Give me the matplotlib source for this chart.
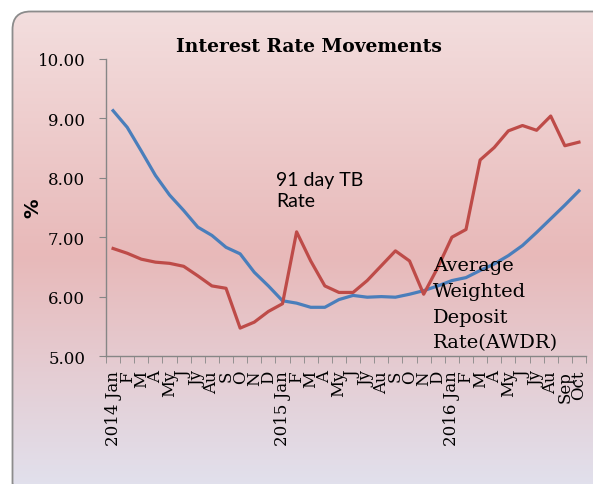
import matplotlib.pyplot as plt
import numpy as np
from matplotlib.colors import LinearSegmentedColormap
from matplotlib.patches import FancyBboxPatch

months = [
    "2014 Jan", "F", "M", "A", "My", "J", "Jy", "Au", "S", "O", "N", "D",
    "2015 Jan", "F", "M", "A", "My", "J", "Jy", "Au", "S", "O", "N", "D",
    "2016 Jan", "F", "M", "A", "My", "J", "Jy", "Au", "Sep", "Oct",
]
tb_rate = [
    6.81, 6.73, 6.63, 6.58, 6.56, 6.51, 6.35, 6.18, 6.14, 5.47, 5.57, 5.75,
    5.88, 7.09, 6.60, 6.18, 6.07, 6.07, 6.27, 6.52, 6.77, 6.60, 6.04, 6.49,
    7.00, 7.13, 8.30, 8.51, 8.79, 8.88, 8.80, 9.04, 8.54, 8.60,
]
awdr = [
    9.13, 8.85, 8.45, 8.04, 7.71, 7.45, 7.17, 7.03, 6.83, 6.72, 6.41, 6.18,
    5.93, 5.89, 5.82, 5.82, 5.95, 6.02, 5.99, 6.00, 5.99, 6.04, 6.10, 6.18,
    6.27, 6.32, 6.44, 6.55, 6.69, 6.86, 7.08, 7.31, 7.54, 7.78,
]

serif = "DejaVu Serif"
grey = "#868686"

fig = plt.figure(figsize=(5.93, 4.85), dpi=100)

# background panel with a vertical gradient and rounded border
bg = fig.add_axes([0, 0, 1, 1])
bg.axis("off")
cmap = LinearSegmentedColormap.from_list(
    "panel", [(0.0, "#f3dede"), (0.5, "#e8b9b9"), (1.0, "#e1e3f0")]
)
grad = np.linspace(0, 1, 256).reshape(-1, 1)
frame = FancyBboxPatch((12.5, 12.5), 600, 490, boxstyle="round,pad=0,rounding_size=18",
                       fc="none", ec="#8c8c8c", lw=1.3, zorder=2)
bg.add_patch(frame)
im = bg.imshow(grad, cmap=cmap, extent=(12, 612, 502, 12), aspect="auto", zorder=1)
im.set_clip_path(frame)
bg.set_xlim(0, 593)
bg.set_ylim(485, 0)

ax = fig.add_axes([0.1788, 0.2639, 0.8094, 0.6124])
ax.patch.set_alpha(0)
x = np.arange(len(months))
ax.plot(x, awdr, color="#4a7ebb", lw=2.3, solid_joinstyle="round")
ax.plot(x, tb_rate, color="#be4b48", lw=2.3, solid_joinstyle="round")

ax.set_xlim(-0.5, len(months) - 0.5)
ax.set_ylim(5, 10)
ax.set_yticks(np.arange(5, 10.5, 1))
ax.set_yticklabels([f"{v:.2f}" for v in np.arange(5, 10.5, 1)], fontfamily=serif, fontsize=12)
ax.set_xticks(x)
ax.set_xticklabels(months, rotation=90, fontfamily=serif, fontsize=12, va="top")
ax.set_xticks(np.arange(-0.5, len(months)), minor=True)
ax.tick_params(axis="x", which="major", length=0, pad=10)
ax.tick_params(axis="x", which="minor", length=5, color=grey)
ax.tick_params(axis="y", length=5, color=grey, pad=10)

for side in ("top", "right"):
    ax.spines[side].set_visible(False)
for side in ("left", "bottom"):
    ax.spines[side].set_color(grey)
    ax.spines[side].set_linewidth(1.0)

fig.text(33 / 593, 1 - 208 / 485, "%", fontweight="bold", fontsize=14, fontfamily="DejaVu Sans",
         rotation=90, ha="center", va="center")

ax.text(11.55, 8.12, "91 day TB\nRate", fontfamily="Lato", fontsize=14, va="top", ha="left",
        linespacing=1.3)
ax.text(22.66, 6.68, "Average\nWeighted\nDeposit\nRate(AWDR)", fontfamily=serif,
        fontsize=14, va="top", ha="left", linespacing=1.55)

fig.text(309 / 593, 1 - 47 / 485, "Interest Rate Movements", fontfamily=serif,
         fontweight="bold", fontsize=13.5, ha="center", va="center")

fig.savefig("out.png", dpi=100)
